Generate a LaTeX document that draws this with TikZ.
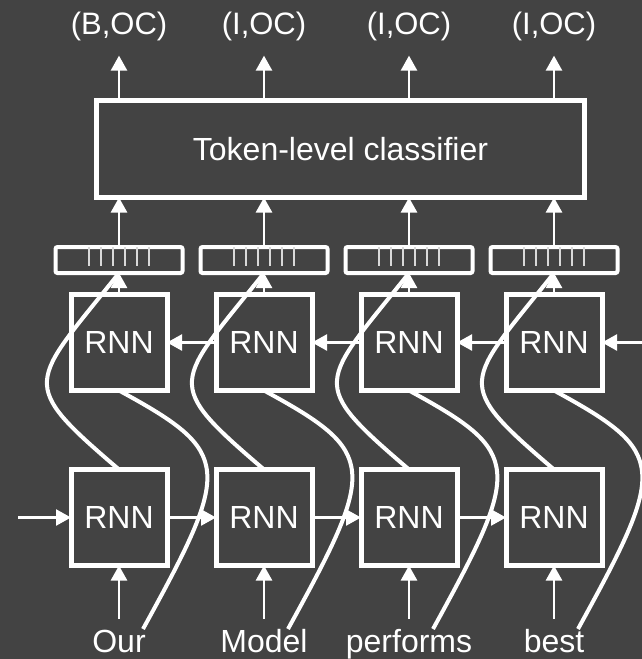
\documentclass[tikz,border=0pt]{standalone}
\usepackage{fontspec}
\setmainfont{Liberation Sans}
\usetikzlibrary{arrows.meta, positioning, calc}
\definecolor{bgcol}{HTML}{434343}

\begin{document}
\begin{tikzpicture}[
  x=1pt, y=-1pt,
  every node/.style={text=white, font=\fontsize{32}{38}\selectfont},
  rnn/.style={draw=white, line width=5pt, minimum width=96pt, minimum height=96pt,
              inner sep=0pt, outer sep=0pt},
  vecbox/.style={draw=white, line width=4pt, rounded corners=2pt, minimum width=127pt,
                 minimum height=26pt, inner sep=0pt, outer sep=0pt},
  clsbox/.style={draw=white, line width=5pt, minimum width=488pt, minimum height=97pt,
                 outer sep=0pt},
  word/.style={inner sep=0pt, text height=23pt, text depth=6pt},
  lbl/.style={inner sep=0pt, font=\fontsize{31}{37}\selectfont},
  arrow/.style={draw=white, line width=2.5pt, -{Triangle[length=15pt,width=16pt]}},
  skip/.style={draw=white, line width=4pt},
  unit/.style={draw=white!85!black, line width=1.5pt}
]
\useasboundingbox (0,0) rectangle (642,659);
\clip (0,0) rectangle (642,659);
\fill[bgcol] (0,0) rectangle (642,659);

\node[clsbox] (cls) at (340.5,149) {Token-level classifier};

\node[rnn] (fwd1) at (119,517.5) {RNN};
\node[rnn, right=49pt of fwd1] (fwd2) {RNN};
\node[rnn, right=49pt of fwd2] (fwd3) {RNN};
\node[rnn, right=49pt of fwd3] (fwd4) {RNN};

\node[rnn, above=79pt of fwd1] (bwd1) {RNN};
\node[rnn, above=79pt of fwd2] (bwd2) {RNN};
\node[rnn, above=79pt of fwd3] (bwd3) {RNN};
\node[rnn, above=79pt of fwd4] (bwd4) {RNN};

\node[vecbox, above=21.5pt of bwd1] (vec1) {};
\node[vecbox, above=21.5pt of bwd2] (vec2) {};
\node[vecbox, above=21.5pt of bwd3] (vec3) {};
\node[vecbox, above=21.5pt of bwd4] (vec4) {};

\node[word, below=63.5pt of fwd1] (w1) {Our};
\node[word, below=63.5pt of fwd2] (w2) {Model};
\node[word, below=63.5pt of fwd3] (w3) {performs};
\node[word, below=63.5pt of fwd4] (w4) {best};

\node[lbl, yshift=74.5pt] (out1) at (vec1 |- cls.north) {(B,OC)};
\node[lbl, yshift=74.5pt] (out2) at (vec2 |- cls.north) {(I,OC)};
\node[lbl, yshift=74.5pt] (out3) at (vec3 |- cls.north) {(I,OC)};
\node[lbl, yshift=74.5pt] (out4) at (vec4 |- cls.north) {(I,OC)};

\coordinate (fin) at (18,517.5);
\coordinate (bin) at (642,342.5);

% hidden-state vectors
\foreach \i in {1,...,4}
  \foreach \k in {-30,-18,...,30}
    \draw[unit] ([xshift=\k pt]vec\i.north) -- ++(0,19);

% recurrent links
\draw[arrow] (fin) -- (fwd1.west);
\draw[arrow] (fwd1.east) -- (fwd2.west);
\draw[arrow] (fwd2.east) -- (fwd3.west);
\draw[arrow] (fwd3.east) -- (fwd4.west);
\draw[arrow] (bin) -- (bwd4.east);
\draw[arrow] (bwd4.west) -- (bwd3.east);
\draw[arrow] (bwd3.west) -- (bwd2.east);
\draw[arrow] (bwd2.west) -- (bwd1.east);

\foreach \i in {1,...,4} {
  \draw[arrow, shorten <=10pt] (w\i.north) -- (fwd\i.south);
  \draw[arrow] (bwd\i.north) -- (vec\i.south);
  \draw[arrow] (vec\i.north) -- (cls.south -| vec\i);
  \draw[arrow, shorten >=15pt] (cls.north -| out\i) -- (out\i.south);
  \draw[skip] ([xshift=24pt]w\i.north) .. controls +(89,-162) and +(114,62) .. (bwd\i.south);
  \draw[skip] (fwd\i.north) .. controls +(-103,-88) and +(-89,112) .. (vec\i.south);
}
\end{tikzpicture}
\end{document}
